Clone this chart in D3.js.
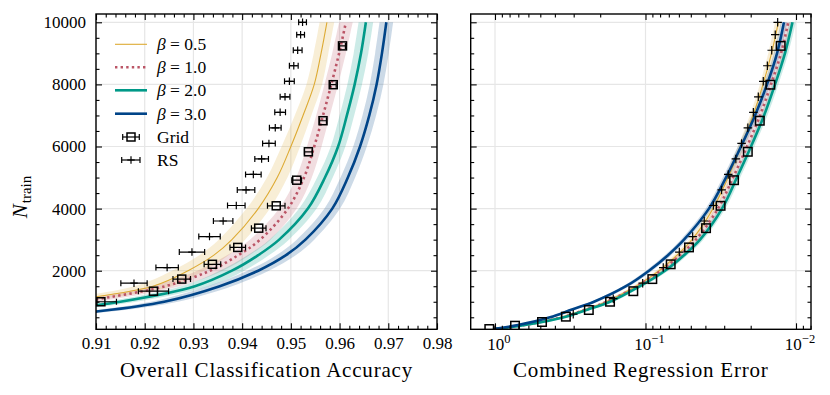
<!DOCTYPE html>
<html>
<head>
<meta charset="utf-8">
<script src="https://cdn.jsdelivr.net/npm/d3@7"></script>
<style>
  body { margin: 0; background: #fff; }
  text { font-family: "Liberation Serif", "DejaVu Serif", serif; fill: #000; }
</style>
</head>
<body>
<svg id="chart" width="830" height="395"></svg>
<script>
// ---- data ----
const betaLabels = ["0.5", "1.0", "2.0", "3.0"];
const betaColors = ["#DDAA33", "#BB5566", "#009988", "#004488"];

// left panel: accuracy curves vs N_train
const accN = [500, 700, 1000, 1500, 2000, 2500, 3000, 4000, 5000, 6000, 7000, 8000, 9000, 10000];
const accBeta05 = [0.880, 0.892, 0.903, 0.9217, 0.9289, 0.9342, 0.9379, 0.9433, 0.9472, 0.9500, 0.9525, 0.9548, 0.9562, 0.9574];
const accBeta10 = [0.885, 0.895, 0.9071, 0.9242, 0.9334, 0.9392, 0.9437, 0.9494, 0.9527, 0.9548, 0.9566, 0.9583, 0.9599, 0.9613];
const accBeta20 = [0.890, 0.900, 0.9150, 0.9303, 0.9379, 0.9433, 0.9476, 0.9535, 0.9570, 0.9597, 0.9615, 0.9631, 0.9644, 0.9654];
const accBeta30 = [0.896, 0.9110, 0.9240, 0.9354, 0.9433, 0.9490, 0.9530, 0.9585, 0.9617, 0.9642, 0.9661, 0.9676, 0.9687, 0.9696];
const accBand05 = [0.005, 0.005, 0.0045, 0.0038, 0.0033, 0.0030, 0.0027, 0.0024, 0.0021, 0.0019, 0.0017, 0.0016, 0.0015, 0.0015];
const accBand10 = [0.004, 0.004, 0.0035, 0.0030, 0.0026, 0.0023, 0.0021, 0.0018, 0.0016, 0.0015, 0.0014, 0.0014, 0.0014, 0.0014];
const accBand20 = [0.0035, 0.0035, 0.0032, 0.0028, 0.0025, 0.0022, 0.0020, 0.0018, 0.0016, 0.0015, 0.0015, 0.0015, 0.0015, 0.0015];
const accBand30 = [0.003, 0.003, 0.0028, 0.0025, 0.0022, 0.0020, 0.0018, 0.0016, 0.0015, 0.0014, 0.0014, 0.0014, 0.0014, 0.0014];

// right panel: regression error curves vs N_train
const errN = [120, 250, 500, 750, 1000, 1500, 2000, 2500, 3000, 4000, 5000, 6000, 7000, 8000, 9000, 10000];
const errBeta05 = [1.0, 0.652, 0.364, 0.252, 0.183, 0.1156, 0.0813, 0.0618, 0.0491, 0.0356, 0.0283, 0.0232, 0.0193, 0.01656, 0.01455, 0.0131];
const errBeta10 = [1.0, 0.642, 0.3587, 0.2485, 0.1803, 0.1139, 0.0789, 0.0590, 0.0462, 0.0330, 0.0262, 0.02116, 0.01734, 0.01466, 0.01258, 0.01125];
const errBeta20 = [1.0, 0.632, 0.348, 0.241, 0.172, 0.1088, 0.0742, 0.0555, 0.0434, 0.0310, 0.0247, 0.0199, 0.0163, 0.01378, 0.01184, 0.01055];
const errBeta30 = [1.031, 0.7035, 0.431, 0.308, 0.220, 0.1348, 0.0948, 0.0709, 0.0555, 0.0379, 0.0292, 0.0232, 0.01873, 0.01558, 0.01337, 0.01202];
const errSpread = 0.05; // relative half-width of the shaded band

// Grid search points
const gridN = [122, 229, 348, 519, 734, 1000, 1340, 1730, 2206, 2750, 3370, 4090, 4915, 5830, 6830, 7990, 9240];
const gridAcc = [null, null, null, null, null, 0.9110, 0.9218, 0.9276, 0.9339, 0.9391, 0.9434, 0.9470, 0.9512, 0.9536, 0.9566, 0.9587, 0.9606];
const gridAccErr = [null, null, null, null, null, 0.0032, 0.0031, 0.0018, 0.0017, 0.0016, 0.0015, 0.0018, 0.0010, 0.0008, 0.0007, 0.0006, 0.0006];
const gridErr = [1.091, 0.736, 0.487, 0.338, 0.238, 0.172, 0.1205, 0.0901, 0.068, 0.0514, 0.0396, 0.0317, 0.0258, 0.0209, 0.0174, 0.0148, 0.01264];

// Random search points
const rsN = [100, 600, 1100, 1600, 2100, 2600, 3100, 3600, 4100, 4600, 5100, 5600, 6100, 6600, 7100, 7600, 8100, 8600, 9100, 9600, 10000];
const rsAcc = [null, null, null, 0.9178, 0.9246, 0.9297, 0.9333, 0.9361, 0.9388, 0.9408, 0.9423, 0.9440, 0.9455, 0.9468, 0.9478, 0.9488, 0.9497, 0.9506, 0.9514, 0.9520, 0.9524];
const rsAccErr = [null, null, null, 0.0027, 0.0023, 0.0026, 0.0022, 0.0020, 0.0018, 0.0018, 0.0016, 0.0014, 0.0013, 0.0012, 0.0011, 0.0010, 0.0010, 0.0009, 0.0009, 0.0008, 0.0008];
const rsErr = [1.015, 0.302, 0.1637, 0.1044, 0.0762, 0.0596, 0.0486, 0.0407, 0.0354, 0.0312, 0.0282, 0.0251, 0.0230, 0.0209, 0.0192, 0.0178, 0.0165, 0.0155, 0.0145, 0.01374, 0.01324];

const yTicks = [2000, 4000, 6000, 8000, 10000];
const accTicks = [0.91, 0.92, 0.93, 0.94, 0.95, 0.96, 0.97, 0.98];
const errTicks = [1, 0.1, 0.01];

// ---- layout ----
const plotTop = 14, plotBottom = 329.3;
const L = { x0: 96, x1: 437 };
const R = { x0: 470.7, x1: 811 };
const serif = "'Liberation Serif', 'DejaVu Serif', serif";
const tickFont = 17, labelFont = 21, legendFont = 17.5;

const svg = d3.select("#chart");

const y = d3.scaleLinear().domain([113, 10267]).range([plotBottom, plotTop]);
const xL = d3.scaleLinear().domain([0.91, 0.98]).range([L.x0, L.x1]);
const xR = d3.scaleLog().domain([1.45, 0.00795]).range([R.x0, R.x1]);

const accSeries = [
  { acc: accBeta05, band: accBand05 },
  { acc: accBeta10, band: accBand10 },
  { acc: accBeta20, band: accBand20 },
  { acc: accBeta30, band: accBand30 }
];
const errSeries = [errBeta05, errBeta10, errBeta20, errBeta30];
const lineWidths = [1.1, 2.6, 2.6, 2.6];
const lineDash = [null, "2.4,3.2", null, null];

// clip paths
const defs = svg.append("defs");
defs.append("clipPath").attr("id", "clipL").append("rect")
  .attr("x", L.x0).attr("y", plotTop).attr("width", L.x1 - L.x0).attr("height", plotBottom - plotTop);
defs.append("clipPath").attr("id", "clipR").append("rect")
  .attr("x", R.x0).attr("y", plotTop).attr("width", R.x1 - R.x0).attr("height", plotBottom - plotTop);

function minorRange(a, b, step) {
  const out = [];
  for (let v = a; v <= b + 1e-9; v += step) out.push(+v.toFixed(6));
  return out;
}

// ---- axes helpers ----
function drawGrid(P, xScale, majorX) {
  const g = svg.append("g");
  g.selectAll(".gx").data(majorX).join("line")
    .attr("x1", d => xScale(d)).attr("x2", d => xScale(d))
    .attr("y1", plotTop).attr("y2", plotBottom)
    .attr("stroke", "#e6e6e6").attr("stroke-width", 1.2);
  g.selectAll(".gy").data(yTicks).join("line")
    .attr("x1", P.x0).attr("x2", P.x1)
    .attr("y1", d => y(d)).attr("y2", d => y(d))
    .attr("stroke", "#e6e6e6").attr("stroke-width", 1.2);
}

function drawTicks(P, xScale, majorX, minorX, yLabels, expLabels) {
  const g = svg.append("g");
  const yMinor = minorRange(500, 10000, 500).filter(v => v % 2000 !== 0);
  const ax = (gen, tx, ty) => {
    const s = g.append("g").attr("transform", `translate(${tx},${ty})`).call(gen);
    s.select(".domain").remove();
    s.selectAll("line").attr("stroke", "#000").attr("stroke-width", 1.1);
    s.attr("font-family", serif).attr("font-size", tickFont);
    s.selectAll("text").style("font-family", serif).style("font-size", tickFont + "px");
    return s;
  };
  ax(d3.axisBottom(xScale).tickValues(majorX).tickSize(-6).tickPadding(8)
    .tickFormat(expLabels ? () => "" : d3.format(".2f")), 0, plotBottom);
  ax(d3.axisBottom(xScale).tickValues(minorX).tickSize(-3.5).tickFormat(""), 0, plotBottom);
  ax(d3.axisTop(xScale).tickValues(majorX).tickSize(-6).tickFormat(""), 0, plotTop);
  ax(d3.axisTop(xScale).tickValues(minorX).tickSize(-3.5).tickFormat(""), 0, plotTop);
  ax(d3.axisLeft(y).tickValues(yTicks).tickSize(-6).tickPadding(10)
    .tickFormat(yLabels ? d3.format("d") : ""), P.x0, 0);
  ax(d3.axisLeft(y).tickValues(yMinor).tickSize(-3.5).tickFormat(""), P.x0, 0);
  ax(d3.axisRight(y).tickValues(yTicks).tickSize(-6).tickFormat(""), P.x1, 0);
  ax(d3.axisRight(y).tickValues(yMinor).tickSize(-3.5).tickFormat(""), P.x1, 0);
  if (expLabels) {
    g.selectAll(".explabel").data(majorX).join("text")
      .attr("x", d => xScale(d) + 4).attr("y", plotBottom + 21)
      .attr("text-anchor", "middle").attr("font-size", tickFont)
      .each(function (d) {
        const t = d3.select(this);
        const e = Math.round(Math.log10(d));
        t.append("tspan").text("10");
        t.append("tspan").attr("dy", -7).attr("font-size", 12.5).text(e === 0 ? "0" : "\u2212" + Math.abs(e));
      });
  }
  g.append("rect").attr("x", P.x0).attr("y", plotTop)
    .attr("width", P.x1 - P.x0).attr("height", plotBottom - plotTop)
    .attr("fill", "none").attr("stroke", "#000").attr("stroke-width", 1.4);
}

function errBar(g, x0, x1, cy) {
  g.append("line").attr("x1", x0).attr("x2", x1).attr("y1", cy).attr("y2", cy)
    .attr("stroke", "#000").attr("stroke-width", 1.2);
  [x0, x1].forEach(x => g.append("line").attr("x1", x).attr("x2", x)
    .attr("y1", cy - 3).attr("y2", cy + 3).attr("stroke", "#000").attr("stroke-width", 1.2));
}
function square(g, cx, cy, s) {
  g.append("rect").attr("x", cx - s / 2).attr("y", cy - s / 2).attr("width", s).attr("height", s)
    .attr("fill", "none").attr("stroke", "#000").attr("stroke-width", 1.5);
}
function plus(g, cx, cy, s) {
  g.append("line").attr("x1", cx - s / 2).attr("x2", cx + s / 2).attr("y1", cy).attr("y2", cy)
    .attr("stroke", "#000").attr("stroke-width", 1.2);
  g.append("line").attr("x1", cx).attr("x2", cx).attr("y1", cy - s / 2).attr("y2", cy + s / 2)
    .attr("stroke", "#000").attr("stroke-width", 1.2);
}

const curve = d3.curveCatmullRom.alpha(0.5);

// ---- left panel ----
drawGrid(L, xL, accTicks);
const gl = svg.append("g").attr("clip-path", "url(#clipL)");

accSeries.forEach((s, i) => {
  const pts = accN.map((n, j) => ({ n, a: s.acc[j], h: s.band[j] }));
  gl.append("path").datum(pts)
    .attr("d", d3.area().curve(curve).y(d => y(d.n)).x0(d => xL(d.a - d.h)).x1(d => xL(d.a + d.h)))
    .attr("fill", betaColors[i]).attr("fill-opacity", 0.2);
});
accSeries.forEach((s, i) => {
  const pts = accN.map((n, j) => ({ n, a: s.acc[j] }));
  gl.append("path").datum(pts)
    .attr("d", d3.line().curve(curve).y(d => y(d.n)).x(d => xL(d.a)))
    .attr("fill", "none").attr("stroke", betaColors[i])
    .attr("stroke-width", lineWidths[i])
    .attr("stroke-dasharray", lineDash[i]);
});

rsN.forEach((n, i) => {
  if (rsAcc[i] == null) return;
  const cy = y(n);
  errBar(gl, xL(rsAcc[i] - rsAccErr[i]), xL(rsAcc[i] + rsAccErr[i]), cy);
  plus(gl, xL(rsAcc[i]), cy, 7.5);
});
gridN.forEach((n, i) => {
  if (gridAcc[i] == null) return;
  const cy = y(n);
  errBar(gl, xL(gridAcc[i] - gridAccErr[i]), xL(gridAcc[i] + gridAccErr[i]), cy);
  square(gl, xL(gridAcc[i]), cy, 8);
});

drawTicks(L, xL, accTicks,
  minorRange(0.912, 0.978, 0.002).filter(v => Math.round(v * 1000) % 10 !== 0), true, false);

// ---- right panel ----
const rMinor = [];
[0.001, 0.01, 0.1, 1].forEach(dec => { for (let m = 2; m <= 9; m++) rMinor.push(m * dec); });
const rMinorIn = rMinor.filter(v => v > 0.00795 && v < 1.45);
drawGrid(R, xR, errTicks);
const gr = svg.append("g").attr("clip-path", "url(#clipR)");
errSeries.forEach((s, i) => {
  const pts = errN.map((n, j) => ({ n, e: s[j] }));
  gr.append("path").datum(pts)
    .attr("d", d3.area().curve(curve).y(d => y(d.n))
      .x0(d => xR(d.e * (1 + errSpread))).x1(d => xR(d.e * (1 - errSpread))))
    .attr("fill", betaColors[i]).attr("fill-opacity", 0.2);
});
errSeries.forEach((s, i) => {
  const pts = errN.map((n, j) => ({ n, e: s[j] }));
  gr.append("path").datum(pts)
    .attr("d", d3.line().curve(curve).y(d => y(d.n)).x(d => xR(d.e)))
    .attr("fill", "none").attr("stroke", betaColors[i])
    .attr("stroke-width", lineWidths[i])
    .attr("stroke-dasharray", lineDash[i]);
});
rsN.forEach((n, i) => plus(gr, xR(rsErr[i]), y(n), 8.5));
gridN.forEach((n, i) => square(gr, xR(gridErr[i]), y(n), 8.5));
drawTicks(R, xR, errTicks, rMinorIn, false, true);

// ---- labels ----
svg.append("text").attr("x", (L.x0 + L.x1) / 2).attr("y", 377)
  .attr("text-anchor", "middle").attr("font-size", labelFont).attr("letter-spacing", 0.8)
  .text("Overall Classification Accuracy");
svg.append("text").attr("x", (R.x0 + R.x1) / 2).attr("y", 377)
  .attr("text-anchor", "middle").attr("font-size", labelFont).attr("letter-spacing", 0.8)
  .text("Combined Regression Error");
const ylab = svg.append("text").attr("transform", "translate(27,197) rotate(-90)")
  .attr("text-anchor", "middle").attr("font-size", labelFont);
ylab.append("tspan").attr("font-style", "italic").text("N");
ylab.append("tspan").attr("font-size", 15).attr("dy", 4).attr("dx", 1).text("train");

// ---- legend ----
const lg = svg.append("g");
const rowY = [44.3, 67.3, 90.3, 113.7, 137, 160];
betaLabels.forEach((b, i) => {
  lg.append("line").attr("x1", 115).attr("x2", 147).attr("y1", rowY[i]).attr("y2", rowY[i])
    .attr("stroke", betaColors[i]).attr("stroke-width", lineWidths[i])
    .attr("stroke-dasharray", lineDash[i]);
  const t = lg.append("text").attr("x", 157).attr("y", rowY[i]).attr("dy", "0.35em").attr("font-size", legendFont);
  t.append("tspan").attr("font-style", "italic").text("\u03b2");
  t.append("tspan").text(" = " + b);
});
errBar(lg, 122.7, 139.3, rowY[4]);
square(lg, 131, rowY[4], 8);
errBar(lg, 121.7, 140, rowY[5]);
plus(lg, 131, rowY[5], 7.5);
lg.append("text").attr("x", 157).attr("y", rowY[4]).attr("dy", "0.35em").attr("font-size", legendFont).text("Grid");
lg.append("text").attr("x", 157).attr("y", rowY[5]).attr("dy", "0.35em").attr("font-size", legendFont).text("RS");
</script>
</body>
</html>
